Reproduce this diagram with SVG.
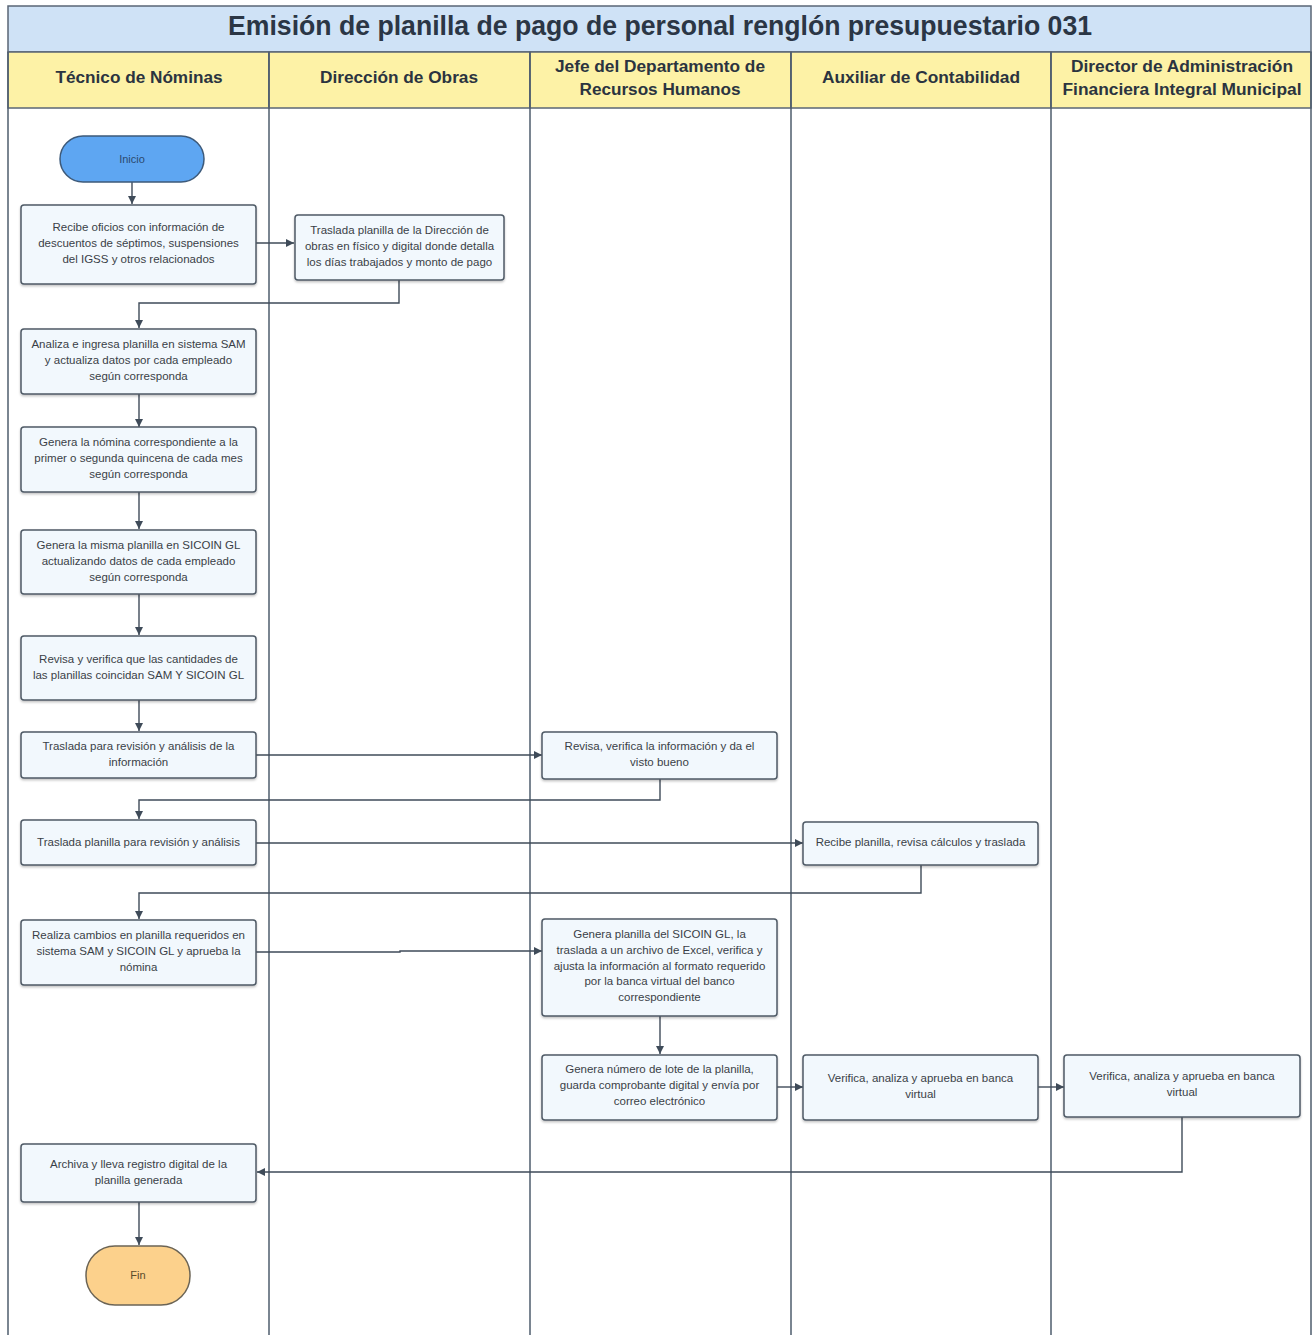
<svg xmlns="http://www.w3.org/2000/svg" width="1315" height="1335" viewBox="0 0 1315 1335">
<style>
.hdr{fill:#fdf2a6;stroke:#5a6675;stroke-width:1.5}
.ttl{fill:#cfe2f6;stroke:#5a6675;stroke-width:1.5}
.div{stroke:#4f5d6d;stroke-width:1.5;fill:none}
.title{font-family:"Liberation Sans",Arial,sans-serif;font-weight:bold;font-size:28px;fill:#2b3645;text-anchor:middle}
.h{font-family:"Liberation Sans",Arial,sans-serif;font-weight:bold;font-size:16px;fill:#2b3440;text-anchor:middle}
.box{fill:#f2f8fd;stroke:#4f5a66;stroke-width:1.5;filter:url(#sh)}
.t{font-family:"Liberation Sans",Arial,sans-serif;font-size:11.5px;fill:#3a3f47;text-anchor:middle}
.c{fill:none;stroke:#3f4b59;stroke-width:1.4;marker-end:url(#ah)}
</style>
<defs>
<marker id="ah" viewBox="0 0 10 10" refX="10" refY="5" markerWidth="8" markerHeight="8" markerUnits="userSpaceOnUse" orient="auto">
<path d="M0,0 L10,5 L0,10 z" fill="#3f4b59"/>
</marker>
<filter id="sh" x="-5%" y="-5%" width="110%" height="115%">
<feDropShadow dx="0" dy="1.5" stdDeviation="1" flood-color="#000" flood-opacity="0.25"/>
</filter>
</defs>
<rect x="0" y="0" width="1315" height="1335" fill="#ffffff"/>
<g id="frame">
<rect class="ttl" x="8" y="6" width="1303" height="46"/>
<text class="title" x="660" y="35" textLength="864" lengthAdjust="spacingAndGlyphs">Emisión de planilla de pago de personal renglón presupuestario 031</text>
<rect class="hdr" x="8" y="52" width="261" height="56"/>
<rect class="hdr" x="269" y="52" width="261" height="56"/>
<rect class="hdr" x="530" y="52" width="261" height="56"/>
<rect class="hdr" x="791" y="52" width="260" height="56"/>
<rect class="hdr" x="1051" y="52" width="260" height="56"/>
<path class="div" d="M8,52 V1335 M269,52 V1335 M530,52 V1335 M791,52 V1335 M1051,52 V1335 M1311,52 V1335"/>
<text class="h" x="139" y="83" textLength="167" lengthAdjust="spacingAndGlyphs">Técnico de Nóminas</text>
<text class="h" x="399" y="83" textLength="158" lengthAdjust="spacingAndGlyphs">Dirección de Obras</text>
<text class="h" x="660" y="72" textLength="210" lengthAdjust="spacingAndGlyphs">Jefe del Departamento de</text>
<text class="h" x="660" y="95" textLength="161" lengthAdjust="spacingAndGlyphs">Recursos Humanos</text>
<text class="h" x="921" y="83" textLength="198" lengthAdjust="spacingAndGlyphs">Auxiliar de Contabilidad</text>
<text class="h" x="1182" y="72" textLength="222" lengthAdjust="spacingAndGlyphs">Director de Administración</text>
<text class="h" x="1182" y="95" textLength="239" lengthAdjust="spacingAndGlyphs">Financiera Integral Municipal</text>
</g>
<g id="connectors">
<path class="c" d="M132,182 V204"/>
<path class="c" d="M256,243 H294"/>
<path class="c" d="M399,280 V303 H139 V328"/>
<path class="c" d="M139,394 V427"/>
<path class="c" d="M139,492 V529"/>
<path class="c" d="M139,594 V635"/>
<path class="c" d="M139,700 V731"/>
<path class="c" d="M256,755 H542"/>
<path class="c" d="M660,779 V800 H139 V819"/>
<path class="c" d="M256,843 H803"/>
<path class="c" d="M921,865 V893 H139 V919"/>
<path class="c" d="M256,952 H400 V951 H542"/>
<path class="c" d="M660,1016 V1054"/>
<path class="c" d="M777,1087 H803"/>
<path class="c" d="M1038,1087 H1064"/>
<path class="c" d="M1182,1117 V1172 H257"/>
<path class="c" d="M139,1202 V1245"/>
</g>
<g id="inicio">
<rect x="60" y="136" width="144" height="46" rx="23" fill="#5ea6f2" stroke="#3d5a7a" stroke-width="1.5"/>
<text class="t" x="132" y="163" style="fill:#2c4a6e;font-size:11px">Inicio</text>
</g>
<g id="n1">
<rect class="box" x="21" y="205" width="235" height="79" rx="3"/>
<text class="t" x="138.5" y="231">Recibe oficios con información de</text>
<text class="t" x="138.5" y="247">descuentos de séptimos, suspensiones</text>
<text class="t" x="138.5" y="263">del IGSS y otros relacionados</text>
</g>
<g id="n2">
<rect class="box" x="295" y="215" width="209" height="65" rx="3"/>
<text class="t" x="399.5" y="234">Traslada planilla de la Dirección de</text>
<text class="t" x="399.5" y="250">obras en físico y digital donde detalla</text>
<text class="t" x="399.5" y="266">los días trabajados y monto de pago</text>
</g>
<g id="n3">
<rect class="box" x="21" y="329" width="235" height="65" rx="3"/>
<text class="t" x="138.5" y="348">Analiza e ingresa planilla en sistema SAM</text>
<text class="t" x="138.5" y="364">y actualiza datos por cada empleado</text>
<text class="t" x="138.5" y="380">según corresponda</text>
</g>
<g id="n4">
<rect class="box" x="21" y="427" width="235" height="65" rx="3"/>
<text class="t" x="138.5" y="446">Genera la nómina correspondiente a la</text>
<text class="t" x="138.5" y="462">primer o segunda quincena de cada mes</text>
<text class="t" x="138.5" y="478">según corresponda</text>
</g>
<g id="n5">
<rect class="box" x="21" y="530" width="235" height="64" rx="3"/>
<text class="t" x="138.5" y="549">Genera la misma planilla en SICOIN GL</text>
<text class="t" x="138.5" y="565">actualizando datos de cada empleado</text>
<text class="t" x="138.5" y="581">según corresponda</text>
</g>
<g id="n6">
<rect class="box" x="21" y="636" width="235" height="64" rx="3"/>
<text class="t" x="138.5" y="663">Revisa y verifica que las cantidades de</text>
<text class="t" x="138.5" y="679">las planillas coincidan SAM Y SICOIN GL</text>
</g>
<g id="n7">
<rect class="box" x="21" y="732" width="235" height="46" rx="3"/>
<text class="t" x="138.5" y="750">Traslada para revisión y análisis de la</text>
<text class="t" x="138.5" y="766">información</text>
</g>
<g id="n8">
<rect class="box" x="542" y="732" width="235" height="47" rx="3"/>
<text class="t" x="659.5" y="750">Revisa, verifica la información y da el</text>
<text class="t" x="659.5" y="766">visto bueno</text>
</g>
<g id="n9">
<rect class="box" x="21" y="820" width="235" height="45" rx="3"/>
<text class="t" x="138.5" y="846">Traslada planilla para revisión y análisis</text>
</g>
<g id="n10">
<rect class="box" x="803" y="822" width="235" height="43" rx="3"/>
<text class="t" x="920.5" y="846">Recibe planilla, revisa cálculos y traslada</text>
</g>
<g id="n11">
<rect class="box" x="21" y="920" width="235" height="65" rx="3"/>
<text class="t" x="138.5" y="939">Realiza cambios en planilla requeridos en</text>
<text class="t" x="138.5" y="955">sistema SAM y SICOIN GL y aprueba la</text>
<text class="t" x="138.5" y="971">nómina</text>
</g>
<g id="n12">
<rect class="box" x="542" y="919" width="235" height="97" rx="3"/>
<text class="t" x="659.5" y="938">Genera planilla del SICOIN GL, la</text>
<text class="t" x="659.5" y="954">traslada a un archivo de Excel, verifica y</text>
<text class="t" x="659.5" y="970">ajusta la información al formato requerido</text>
<text class="t" x="659.5" y="985">por la banca virtual del banco</text>
<text class="t" x="659.5" y="1001">correspondiente</text>
</g>
<g id="n13">
<rect class="box" x="542" y="1055" width="235" height="65" rx="3"/>
<text class="t" x="659.5" y="1073">Genera número de lote de la planilla,</text>
<text class="t" x="659.5" y="1089">guarda comprobante digital y envía por</text>
<text class="t" x="659.5" y="1105">correo electrónico</text>
</g>
<g id="n14">
<rect class="box" x="803" y="1055" width="235" height="65" rx="3"/>
<text class="t" x="920.5" y="1082">Verifica, analiza y aprueba en banca</text>
<text class="t" x="920.5" y="1098">virtual</text>
</g>
<g id="n15">
<rect class="box" x="1064" y="1055" width="236" height="62" rx="3"/>
<text class="t" x="1182" y="1080">Verifica, analiza y aprueba en banca</text>
<text class="t" x="1182" y="1096">virtual</text>
</g>
<g id="n16">
<rect class="box" x="21" y="1144" width="235" height="58" rx="3"/>
<text class="t" x="138.5" y="1168">Archiva y lleva registro digital de la</text>
<text class="t" x="138.5" y="1184">planilla generada</text>
</g>
<g id="fin">
<rect x="86" y="1246" width="104" height="59" rx="29" fill="#fcd18c" stroke="#6b6455" stroke-width="1.5"/>
<text class="t" x="138" y="1279" style="fill:#5a4a2a;font-size:11px">Fin</text>
</g>
</svg>
